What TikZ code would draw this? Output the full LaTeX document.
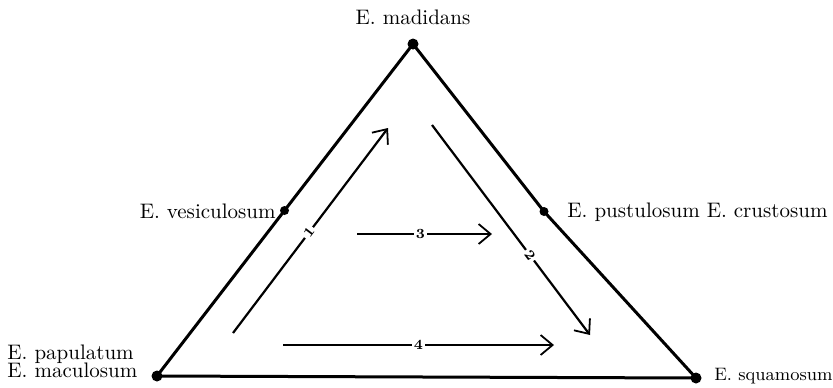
\documentclass[tikz,border=0pt]{standalone}
\usetikzlibrary{arrows.meta}

\tikzset{
  vdot/.style={circle, fill=black, inner sep=0pt, minimum size=5.5pt},
  sdot/.style={circle, fill=black, inner sep=0pt, minimum size=4.5pt},
  spname/.style={font=\fontsize{10.5}{11}\selectfont, inner sep=1pt},
  trend/.style={line width=1.1pt, -{Straight Barb[length=6pt, width=10pt, line width=0.9pt]}},
  trendlab/.style={fill=white, inner sep=1pt, font=\bfseries\fontsize{7}{8}\selectfont}
}

\begin{document}
\begin{tikzpicture}[x=0.5pt, y=-0.5pt]
  \useasboundingbox (0,0) rectangle (833,387);
  % corners of the triangle
  \node[vdot] (mad) at (413,44) {};
  \node[vdot] (pap) at (157,376) {};
  \node[vdot] (squ) at (696,378) {};
  % intermediate forms on the sides
  \node[sdot] (ves) at (284.5,210.5) {};
  \node[sdot] (pus) at (544,211.5) {};
  \draw[line width=1.5pt, line join=round] (mad.center) -- (ves.center) -- (pap.center)
    -- (squ.center) -- (pus.center) -- cycle;

  % names
  \node[spname, anchor=south] at (413,27) {E. madidans};
  \node[spname, anchor=east] at (278,211) {E. vesiculosum};
  \node[spname, anchor=west] at (565,212) {E. pustulosum E. crustosum};
  \node[spname, anchor=base west] (papn) at (5,359) {E. papulatum};
  \node[spname, anchor=base west] (macn) at (5,377) {E. maculosum};
  \node[spname, anchor=base west, font=\fontsize{9}{11}\selectfont] at (712,380) {E. squamosum};

  % trends
  \coordinate (s1) at (233,333); \coordinate (e1) at (388,128);
  \coordinate (s2) at (432,125); \coordinate (e2) at (590,335);
  \coordinate (s3) at (357,234); \coordinate (e3) at (492,234);
  \coordinate (s4) at (283,345); \coordinate (e4) at (554,345);
  \draw[trend] (s1) -- node[trendlab, sloped, pos=0.49] {1} (e1);
  \draw[trend] (s2) -- node[trendlab, sloped, pos=0.62] {2} (e2);
  \draw[trend] (s3) -- node[trendlab, pos=0.47] {3} (e3);
  \draw[trend] (s4) -- node[trendlab, pos=0.5] {4} (e4);
\end{tikzpicture}
\end{document}
